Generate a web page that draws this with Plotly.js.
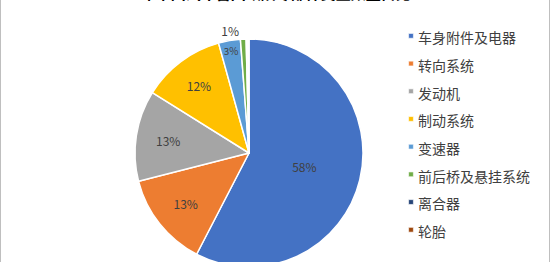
<!DOCTYPE html>
<html>
<head>
<meta charset="utf-8">
<script src="https://cdn.plot.ly/plotly-3.0.1.min.js"></script>
<style>
html,body{margin:0;padding:0;overflow:hidden;background:#fff;}
#chart{width:550px;height:280px;}
</style>
</head>
<body>
<div id="chart"></div>
<script>
const chartTitle = "2019年中国汽车召回缺陷零部件类型数量占比";
const categories = ["车身附件及电器","转向系统","发动机","制动系统","变速器","前后桥及悬挂系统","离合器","轮胎"];
const shares = [57.6, 13.4, 12.9, 11.8, 3.1, 0.8, 0.2, 0.2];
const colors = ["#4472C4","#ED7D31","#A5A5A5","#FFC000","#5B9BD5","#70AD47","#264478","#9E480E"];

const H = 280;
const legendLabels = categories.map(c => '<span style="font-size:14px">' + c + '</span>');

const trace = {
  type: 'pie',
  labels: legendLabels,
  values: shares,
  sort: false,
  direction: 'clockwise',
  rotation: 0,
  marker: {colors: colors, line: {color: '#ffffff', width: 1.5}},
  texttemplate: shares.map(v => v >= 0.5 ? '%{percent:.0%}' : ''),
  textposition: shares.map(v => v < 2 ? 'outside' : 'inside'),
  insidetextorientation: 'horizontal',
  textfont: {family: 'Noto Sans CJK SC, Microsoft YaHei, sans-serif', size: 12, color: '#404040'},
  outsidetextfont: {color: '#404040'},
  hoverinfo: 'none',
  domain: {x: [135/550, 363/550], y: [(H-153-114)/H, (H-153+114)/H]},
  showlegend: true
};

const layout = {
  width: 550,
  height: H,
  margin: {l: 0, r: 0, t: 0, b: 0},
  paper_bgcolor: '#ffffff',
  font: {family: 'Noto Sans CJK SC, sans-serif', color: '#404040'},
  title: {
    text: chartTitle,
    font: {size: 15, color: '#000000', family: 'Noto Sans CJK SC, sans-serif', weight: 'bold'},
    x: 258/550, xanchor: 'center', xref: 'container',
    y: 1, yanchor: 'bottom', yref: 'container',
    pad: {b: 1.5}
  },
  legend: {
    x: 378/550, xanchor: 'left',
    y: 1 - 17/H, yanchor: 'top',
    font: {size: 19, color: '#404040', family: 'Noto Sans CJK SC, sans-serif'},
    bgcolor: 'rgba(0,0,0,0)'
  },
  shapes: [
    {type: 'line', xref: 'paper', yref: 'paper', x0: 0, x1: 0, y0: 0, y1: 1, line: {color: '#bfbfbf', width: 2}},
    {type: 'line', xref: 'paper', yref: 'paper', x0: 1, x1: 1, y0: 0, y1: 1, line: {color: '#bfbfbf', width: 2}}
  ]
};

Plotly.newPlot('chart', [trace], layout, {staticPlot: true, displayModeBar: false}).then(function(gd){
  gd.querySelectorAll('.legend .legendpoints path').forEach(function(p){
    p.setAttribute('transform', 'translate(33,0) scale(0.4)');
  });
});
</script>
</body>
</html>
